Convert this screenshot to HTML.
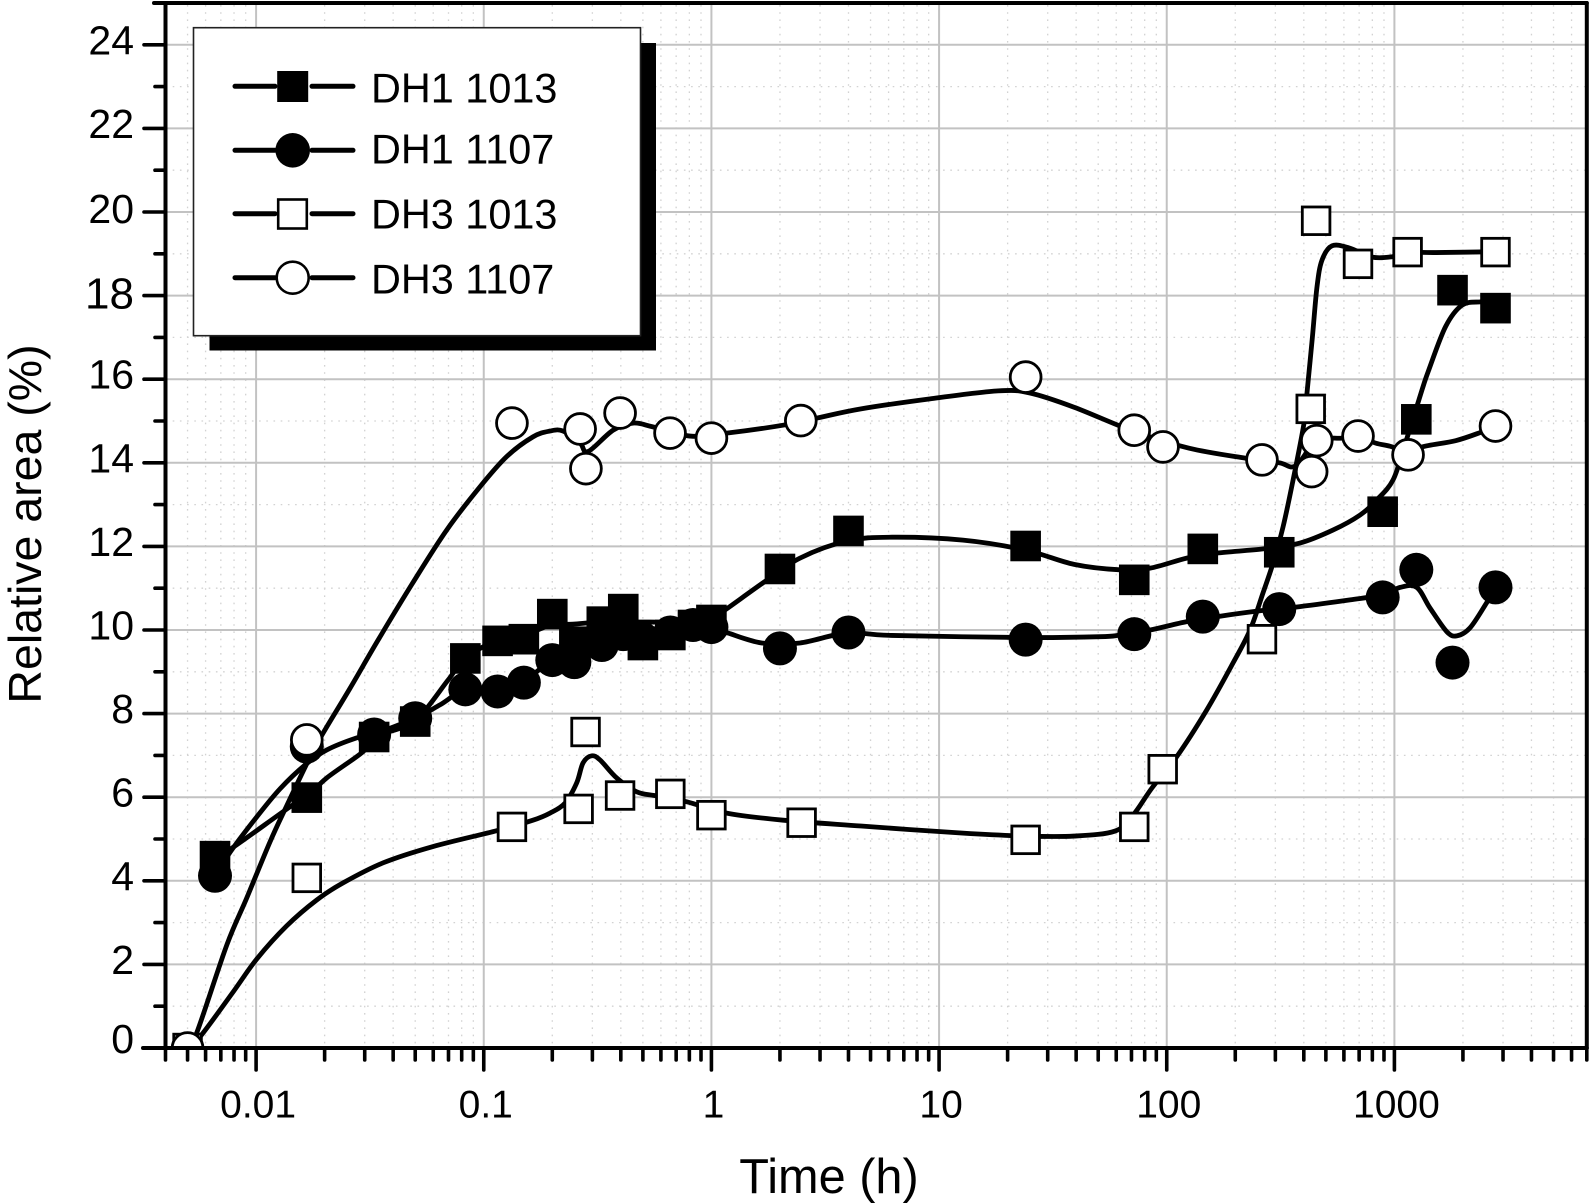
<!DOCTYPE html>
<html lang="en">
<head>
<meta charset="utf-8">
<title>Relative area vs time</title>
<style>
html,body{margin:0;padding:0;background:#fff;}
svg{display:block;font-family:"Liberation Sans",Arial,sans-serif;}
</style>
</head>
<body>
<svg id="chart" xmlns="http://www.w3.org/2000/svg" width="1589" height="1204" viewBox="0 0 1589 1204">
  <defs><clipPath id="plot-clip"><rect x="165.5" y="3" width="1421.3" height="1045"/></clipPath></defs>
  <rect x="0" y="0" width="1589" height="1204" fill="#fff"/>
  <g id="grid"></g>
  <g id="fit-lines" clip-path="url(#plot-clip)" fill="none" stroke="#000" stroke-width="4.8" stroke-linecap="round" stroke-linejoin="round"></g>
  <g id="markers" clip-path="url(#plot-clip)"></g>
  <g id="axes" stroke="#000" stroke-linecap="round"></g>
  <g id="tick-labels" fill="#000" font-size="39"></g>
  <text x="829" y="1193" font-size="48.7" text-anchor="middle" fill="#000">Time (h)</text>
  <text transform="translate(41 524) rotate(-90)" font-size="46.5" text-anchor="middle" fill="#000">Relative area (%)</text>
  <g id="legend">
    <rect x="209.5" y="43" width="446.5" height="307.5" fill="#000"/>
    <rect x="193.5" y="27.7" width="447" height="308" fill="#fff" stroke="#222" stroke-width="1.6"/>
    <g>
      <path d="M235 86.3H275M312 86.3H353" stroke="#000" stroke-width="5" stroke-linecap="round" fill="none"/>
      <rect x="277.2" y="71" width="31" height="31" fill="#000"/>
      <text x="371" y="102.5" font-size="41.4" fill="#000">DH1 1013</text>
    </g>
    <g>
      <path d="M235 150.3H275M312 150.3H353" stroke="#000" stroke-width="5" stroke-linecap="round" fill="none"/>
      <circle cx="292.7" cy="150.3" r="17.3" fill="#000"/>
      <text x="371" y="163.5" font-size="41.4" fill="#000">DH1 1107</text>
    </g>
    <g>
      <path d="M235 213.7H275M312 213.7H353" stroke="#000" stroke-width="5" stroke-linecap="round" fill="none"/>
      <rect x="278.2" y="199.5" width="28.6" height="29" fill="#fff" stroke="#000" stroke-width="2.6"/>
      <text x="371" y="228.5" font-size="41.4" fill="#000">DH3 1013</text>
    </g>
    <g>
      <path d="M235 277.7H275M312 277.7H353" stroke="#000" stroke-width="5" stroke-linecap="round" fill="none"/>
      <circle cx="292.7" cy="277.7" r="16" fill="#fff" stroke="#000" stroke-width="2.6"/>
      <text x="371" y="293.5" font-size="41.4" fill="#000">DH3 1107</text>
    </g>
  </g>
</svg>
<script>
/* ---------- axis data ---------- */
var xMajorTicks = [0.01, 0.1, 1, 10, 100, 1000];
var xTickLabels = ["0.01", "0.1", "1", "10", "100", "1000"];
var xMinorTicks = [0.004,0.005,0.006,0.007,0.008,0.009,
  0.02,0.03,0.04,0.05,0.06,0.07,0.08,0.09,
  0.2,0.3,0.4,0.5,0.6,0.7,0.8,0.9,
  2,3,4,5,6,7,8,9,
  20,30,40,50,60,70,80,90,
  200,300,400,500,600,700,800,900,
  2000,3000,4000,5000,6000,7000];
var yMajorTicks = [0,2,4,6,8,10,12,14,16,18,20,22,24];
var yTickLabels = ["0","2","4","6","8","10","12","14","16","18","20","22","24"];
var yMinorTicks = [1,3,5,7,9,11,13,15,17,19,21,23,25];

/* ---------- measured points: time (h) and relative area (%) ---------- */
var dh1_1013_time = [0.0066,0.0167,0.033,0.05,0.083,0.115,0.15,0.2,0.25,0.33,0.41,0.5,0.66,0.83,1,2,4,24,72,144,312,888,1248,1800,2780];
var dh1_1013_area = [4.59,5.99,7.44,7.81,9.32,9.74,9.78,10.38,9.72,10.2,10.5,9.64,9.88,10.12,10.24,11.46,12.37,12.01,11.2,11.94,11.86,12.83,15.04,18.13,17.7];

var dh1_1107_time = [0.0066,0.0167,0.033,0.05,0.083,0.115,0.15,0.2,0.25,0.33,0.41,0.5,0.66,0.83,1,2,4,24,72,144,312,888,1248,1800,2780];
var dh1_1107_area = [4.12,7.21,7.5,7.89,8.58,8.53,8.74,9.28,9.23,9.64,9.9,9.78,9.94,10.12,10.07,9.56,9.94,9.77,9.9,10.32,10.5,10.78,11.44,9.22,11.02];

var dh3_1013_time = [0.005,0.0167,0.133,0.261,0.28,0.397,0.66,1,2.49,24,72,96,262,429,453,692,1143,2780];
var dh3_1013_area = [0,4.07,5.29,5.72,7.56,6.04,6.08,5.57,5.39,4.98,5.29,6.67,9.78,15.29,19.79,18.76,19.04,19.04];

var dh3_1107_time = [0.005,0.0167,0.133,0.265,0.281,0.397,0.658,1,2.47,24,72,96.3,262,433,456,692,1148,2780];
var dh3_1107_area = [0,7.37,14.95,14.81,13.86,15.19,14.71,14.59,15.01,16.05,14.78,14.38,14.07,13.79,14.53,14.64,14.19,14.88];

/* ---------- fitted curves: log10(time) and area ---------- */
var dh1_1013_fitLogTime = [-2.18,-2.107,-1.851,-1.781,-1.69,-1.53,-1.482,-1.306,-1.157,-1.082,-0.937,-0.828,-0.705,-0.608,-0.481,-0.27,-0.081,-0.002,0.06,0.235,0.389,0.596,0.793,1.105,1.38,1.593,1.795,1.927,2.088,2.22,2.423,2.585,2.73,2.849,2.922,2.994,3.046,3.121,3.151,3.225,3.297,3.379,3.445];
var dh1_1013_fitArea = [4.59,4.78,5.77,5.99,6.46,7.09,7.44,7.82,8.8,9.33,9.76,9.86,10.12,10.14,10.19,10.19,10.19,10.26,10.48,11.16,11.72,12.13,12.22,12.15,11.91,11.57,11.44,11.48,11.72,11.84,11.94,12.08,12.39,12.75,13.11,13.59,14.43,15.74,16.22,17.26,17.77,17.85,17.85];

var dh1_1107_fitLogTime = [-2.18,-2.107,-1.997,-1.895,-1.785,-1.69,-1.558,-1.482,-1.302,-1.192,-1.082,-0.937,-0.828,-0.7,-0.608,-0.481,-0.305,-0.177,-0.081,-0.002,0.072,0.221,0.389,0.596,0.793,1.38,1.707,1.795,1.927,2.088,2.234,2.41,2.585,2.805,2.946,3.025,3.098,3.156,3.23,3.274,3.332,3.405,3.446];
var dh1_1107_fitArea = [4.12,4.74,5.53,6.2,6.77,7.13,7.42,7.51,7.89,8.21,8.56,8.54,8.76,9.28,9.47,9.67,9.83,9.95,10.07,10.07,9.93,9.69,9.69,9.93,9.87,9.82,9.84,9.88,10,10.2,10.33,10.46,10.56,10.72,10.84,11.02,11.02,10.53,9.96,9.86,10.05,10.65,11.03];

var dh3_1013_fitLogTime = [-2.305,-2.246,-2.101,-1.997,-1.866,-1.734,-1.618,-1.442,-1.223,-0.943,-0.784,-0.709,-0.643,-0.592,-0.564,-0.526,-0.489,-0.416,-0.328,-0.24,-0.108,0.067,0.315,0.657,1.105,1.38,1.593,1.773,1.852,1.935,2.044,2.176,2.291,2.366,2.423,2.467,2.511,2.555,2.603,2.616,2.64,2.66,2.682,2.726,2.801,2.902,2.99,3.055,3.183,3.451];
var dh3_1013_fitArea = [0,0.27,1.34,2.13,2.92,3.54,3.95,4.43,4.82,5.2,5.45,5.62,5.86,6.34,6.82,6.99,6.89,6.46,6.13,6.03,5.89,5.62,5.45,5.31,5.14,5.07,5.07,5.19,5.57,6.22,6.97,8.09,9.21,10,10.89,11.6,12.47,13.59,14.95,15.67,17.02,18.21,18.85,19.19,19.14,18.92,18.93,19.03,19.03,19.05];

var dh3_1107_fitLogTime = [-2.305,-2.261,-2.129,-2.041,-1.939,-1.866,-1.763,-1.705,-1.587,-1.464,-1.315,-1.163,-1.016,-0.899,-0.784,-0.709,-0.652,-0.577,-0.542,-0.432,-0.344,-0.257,-0.094,0.067,0.315,0.463,0.657,0.96,1.259,1.399,1.593,1.852,2.098,2.347,2.493,2.567,2.659,2.77,2.84,2.918,2.99,3.06,3.121,3.269,3.385,3.451];
var dh3_1107_fitArea = [0,0.36,2.46,3.59,4.93,5.79,6.96,7.54,8.61,9.76,11.1,12.39,13.43,14.15,14.62,14.76,14.76,14.47,14.27,14.78,14.95,14.86,14.64,14.71,14.9,15.07,15.29,15.53,15.72,15.67,15.33,14.76,14.35,14.11,14,13.93,14.53,14.59,14.64,14.47,14.38,14.19,14.38,14.53,14.74,14.88];

/* ---------- scales ---------- */
var X_MIN = 0.004, X_MAX = 7000, Y_MIN = 0, Y_MAX = 25;
var LEFT = 165.5, RIGHT = 1586.8, BOTTOM = 1048, TOP = 3;
function sx(t){
  return LEFT + (Math.log10(t) - Math.log10(X_MIN)) / (Math.log10(X_MAX) - Math.log10(X_MIN)) * (RIGHT - LEFT);
}
function sy(v){
  return BOTTOM - (v - Y_MIN) / (Y_MAX - Y_MIN) * (BOTTOM - TOP);
}

var NS = "http://www.w3.org/2000/svg";
function make(tag, attrs, parent){
  var el = document.createElementNS(NS, tag);
  for (var k in attrs) { el.setAttribute(k, attrs[k]); }
  parent.appendChild(el);
  return el;
}
var gridG = document.getElementById("grid");
var fitG = document.getElementById("fit-lines");
var markG = document.getElementById("markers");
var axesG = document.getElementById("axes");
var labelG = document.getElementById("tick-labels");

/* ---------- grid ---------- */
xMinorTicks.forEach(function(t){
  var el = make("line", {x1:sx(t), x2:sx(t), y1:TOP+2, y2:BOTTOM, stroke:"#d2d2d2", "stroke-width":1.3, "stroke-dasharray":"1.6 5.6"}, gridG);
  
  
});
yMinorTicks.forEach(function(v){
  var el = make("line", {x1:LEFT, x2:RIGHT, y1:sy(v), y2:sy(v), stroke:"#d2d2d2", "stroke-width":1.3, "stroke-dasharray":"1.6 5.6"}, gridG);
  
  
});
xMajorTicks.forEach(function(t){
  var el = make("line", {x1:sx(t), x2:sx(t), y1:TOP, y2:BOTTOM, stroke:"#c2c2c2", "stroke-width":2}, gridG);
  
  
});
yMajorTicks.forEach(function(v){
  if (v === 0) return;
  var el = make("line", {x1:LEFT, x2:RIGHT, y1:sy(v), y2:sy(v), stroke:"#c2c2c2", "stroke-width":2}, gridG);
  
  
});

/* ---------- fitted curves (Catmull-Rom through the read-off knots) ---------- */
function curvePath(logTimes, areas){
  var p = logTimes.map(function(lt, i){ return [sx(Math.pow(10, lt)), sy(areas[i])]; });
  var d = "M" + p[0][0].toFixed(2) + " " + p[0][1].toFixed(2);
  for (var i = 0; i < p.length - 1; i++){
    var a = p[Math.max(i-1,0)], b = p[i], c = p[i+1], e = p[Math.min(i+2,p.length-1)];
    var c1x = b[0] + (c[0]-a[0])/6, c1y = b[1] + (c[1]-a[1])/6;
    var c2x = c[0] - (e[0]-b[0])/6, c2y = c[1] - (e[1]-b[1])/6;
    d += "C" + c1x.toFixed(2) + " " + c1y.toFixed(2) + " " + c2x.toFixed(2) + " " + c2y.toFixed(2) + " " + c[0].toFixed(2) + " " + c[1].toFixed(2);
  }
  return d;
}
var fit1 = make("path", {d:curvePath(dh1_1013_fitLogTime, dh1_1013_fitArea)}, fitG);


var fit2 = make("path", {d:curvePath(dh1_1107_fitLogTime, dh1_1107_fitArea)}, fitG);


var fit3 = make("path", {d:curvePath(dh3_1013_fitLogTime, dh3_1013_fitArea)}, fitG);


var fit4 = make("path", {d:curvePath(dh3_1107_fitLogTime, dh3_1107_fitArea)}, fitG);



/* ---------- markers ---------- */
dh1_1013_time.forEach(function(t, i){
  var el = make("rect", {x:sx(t)-15.3, y:sy(dh1_1013_area[i])-15.3, width:30.6, height:30.6, fill:"#000"}, markG);
  
  
});
dh1_1107_time.forEach(function(t, i){
  var el = make("circle", {cx:sx(t), cy:sy(dh1_1107_area[i]), r:17, fill:"#000"}, markG);
  
  
});
dh3_1013_time.forEach(function(t, i){
  var el = make("rect", {x:sx(t)-13.8, y:sy(dh3_1013_area[i])-13.8, width:27.6, height:27.6, fill:"#fff", stroke:"#000", "stroke-width":2.8}, markG);
  
  
});
dh3_1107_time.forEach(function(t, i){
  var el = make("circle", {cx:sx(t), cy:sy(dh3_1107_area[i]), r:15.4, fill:"#fff", stroke:"#000", "stroke-width":2.8}, markG);
  
  
});

/* ---------- axes ---------- */
var frame = [
  ['left-axis-line', LEFT, TOP, LEFT, BOTTOM],
  ['right-axis-line', RIGHT, TOP, RIGHT, BOTTOM],
  ['top-axis-line', 154, TOP, RIGHT, TOP],
  ['bottom-axis-line', 143, BOTTOM, RIGHT, BOTTOM]
];
frame.forEach(function(f){
  var el = make("line", {x1:f[1], y1:f[2], x2:f[3], y2:f[4], "stroke-width":4}, axesG);
  
  
});
xMajorTicks.forEach(function(t){
  var el = make("line", {x1:sx(t), x2:sx(t), y1:BOTTOM, y2:1070, "stroke-width":3.6}, axesG);
  
  
});
xMinorTicks.forEach(function(t){
  var el = make("line", {x1:sx(t), x2:sx(t), y1:BOTTOM, y2:1060, "stroke-width":3.6}, axesG);
  
  
});
yMajorTicks.forEach(function(v){
  var el = make("line", {x1:144, x2:LEFT, y1:sy(v), y2:sy(v), "stroke-width":3.6}, axesG);
  
  
});
yMinorTicks.forEach(function(v){
  var el = make("line", {x1:155, x2:LEFT, y1:sy(v), y2:sy(v), "stroke-width":3.6}, axesG);
  
  
});

/* ---------- tick labels ---------- */
xMajorTicks.forEach(function(t, i){
  var el = make("text", {x:sx(t)+2, y:1117.5, "text-anchor":"middle"}, labelG);
  el.textContent = xTickLabels[i];
  
  
});
yMajorTicks.forEach(function(v, i){
  var label = yTickLabels[i];
  var dy = label === "0" ? 5 : label === "18" ? 13 : label === "20" ? 11 : 9.5;
  var el = make("text", {x:134, y:sy(v)+dy, "text-anchor":"end", "font-size":label === "18" ? 44 : 41}, labelG);
  el.textContent = label;
  
  
});
</script>
</body>
</html>
